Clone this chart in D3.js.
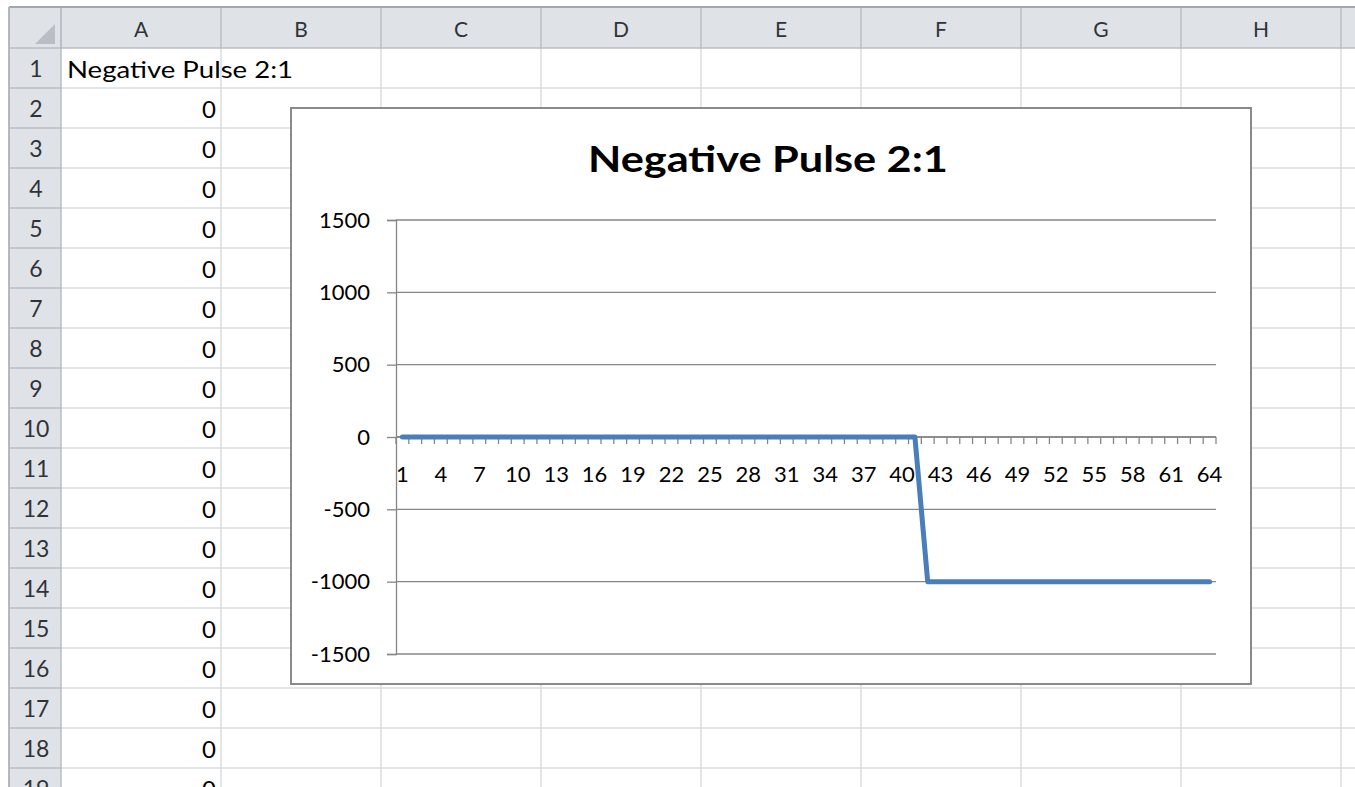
<!DOCTYPE html>
<html>
<head>
<meta charset="utf-8">
<script src="https://cdn.jsdelivr.net/npm/d3@7"></script>
<style>
  html, body { margin: 0; padding: 0; background: #fff; }
  svg { display: block; }
  text { font-family: Lato, "Open Sans", sans-serif; }
</style>
</head>
<body>
<svg id="sheet" width="1355" height="787"></svg>
<script>
// ---------------- data ----------------
const columnLetters = ["A", "B", "C", "D", "E", "F", "G", "H"];
const rowNumbers = d3.range(1, 20);
const cellA1 = "Negative Pulse 2:1";
const columnAValues = [0,0,0,0,0,0,0,0,0,0,0,0,0,0,0,0,0,0]; // rows 2..19
const chartTitle = "Negative Pulse 2:1";
const categories = d3.range(1, 65);            // 1..64
const pulseValues = [
  0,0,0,0,0,0,0,0,0,0,
  0,0,0,0,0,0,0,0,0,0,
  0,0,0,0,0,0,0,0,0,0,
  0,0,0,0,0,0,0,0,0,0,
  0,
  -1000,-1000,-1000,-1000,-1000,-1000,-1000,-1000,-1000,-1000,
  -1000,-1000,-1000,-1000,-1000,-1000,-1000,-1000,-1000,-1000,
  -1000,-1000,-1000
];
const yTickValues = [-1500, -1000, -500, 0, 500, 1000, 1500];
const xTickLabels = d3.range(1, 65, 3);        // 1,4,7,...,64

// ---------------- sheet ----------------
const svg = d3.select("#sheet");
const W = 1355, H = 787;
const headerTop = 8, headerBottom = 48, rowHdrLeft = 10, rowHdrRight = 61;
const colW = 160, rowH = 40;
const visibleColumnBounds = columnLetters.length + 1; // one more boundary past H

svg.append("rect").attr("width", W).attr("height", H).attr("fill", "#fff");

const colX = d3.scaleLinear().domain([0, 1]).range([rowHdrRight, rowHdrRight + colW]);
const rowY = d3.scaleLinear().domain([0, 1]).range([headerBottom, headerBottom + rowH]);

// header backgrounds
svg.append("rect").attr("x", rowHdrLeft).attr("y", headerTop)
  .attr("width", W - rowHdrLeft).attr("height", headerBottom - headerTop).attr("fill", "#dfe3e8");
svg.append("rect").attr("x", rowHdrLeft).attr("y", headerTop)
  .attr("width", rowHdrRight - rowHdrLeft).attr("height", H - headerTop).attr("fill", "#dfe3e8");

// grid lines (cells)
const grid = svg.append("g").attr("stroke", "#dadcdf").attr("stroke-width", 1.5);
d3.range(1, visibleColumnBounds).forEach(i => {
  grid.append("line").attr("x1", colX(i)).attr("x2", colX(i)).attr("y1", headerBottom).attr("y2", H);
});
rowNumbers.forEach(r => {
  grid.append("line").attr("x1", rowHdrRight).attr("x2", W).attr("y1", rowY(r)).attr("y2", rowY(r));
});

// header separators
const hs = svg.append("g").attr("stroke", "#b9bdc4").attr("stroke-width", 1.5);
d3.range(0, visibleColumnBounds).forEach(i => {
  hs.append("line").attr("x1", colX(i)).attr("x2", colX(i)).attr("y1", headerTop).attr("y2", headerBottom);
});
rowNumbers.forEach(r => {
  hs.append("line").attr("x1", rowHdrLeft).attr("x2", rowHdrRight).attr("y1", rowY(r)).attr("y2", rowY(r));
});
hs.append("line").attr("x1", rowHdrLeft).attr("x2", W).attr("y1", headerBottom).attr("y2", headerBottom);
hs.append("line").attr("x1", rowHdrRight).attr("x2", rowHdrRight).attr("y1", headerTop).attr("y2", H);

// outer frame
svg.append("line").attr("x1", rowHdrLeft - 1).attr("x2", W).attr("y1", headerTop - 1).attr("y2", headerTop - 1)
  .attr("stroke", "#a3a7ad").attr("stroke-width", 2);
svg.append("line").attr("x1", rowHdrLeft - 1).attr("x2", rowHdrLeft - 1).attr("y1", headerTop - 1).attr("y2", H)
  .attr("stroke", "#b4b8be").attr("stroke-width", 2);

// corner triangle
svg.append("path")
  .attr("d", "M55,24 L55,44 L35,44 Z")
  .attr("fill", "#b9bec6");

// column letters
svg.append("g").selectAll("text").data(columnLetters).join("text")
  .attr("x", (d, i) => colX(i + 0.5)).attr("y", 37)
  .attr("text-anchor", "middle").attr("font-size", 21).attr("fill", "#2f3338")
  .text(d => d);

// row numbers
svg.append("g").selectAll("text").data(rowNumbers).join("text")
  .attr("x", 36).attr("y", r => rowY(r - 1) + 29)
  .attr("text-anchor", "middle").attr("font-size", 23).attr("fill", "#2f3338")
  .text(d => d);

// cell contents
svg.append("text").attr("x", colX(0) + 6).attr("y", rowY(0) + 30)
  .attr("font-size", 24).attr("fill", "#000")
  .attr("textLength", 226).attr("lengthAdjust", "spacingAndGlyphs")
  .text(cellA1);
svg.append("g").selectAll("text").data(columnAValues).join("text")
  .attr("x", colX(1) - 5).attr("y", (d, i) => rowY(i + 1) + 30)
  .attr("text-anchor", "end").attr("font-size", 24).attr("fill", "#000")
  .text(d => d);

// ---------------- chart ----------------
const chart = { x: 291, y: 108, w: 960, h: 576 };
const plot = { left: 396, right: 1216, top: 220, bottom: 654 };

svg.append("rect")
  .attr("x", chart.x).attr("y", chart.y).attr("width", chart.w).attr("height", chart.h)
  .attr("fill", "#fff").attr("stroke", "#8a8a8a").attr("stroke-width", 2);

svg.append("text")
  .attr("x", chart.x + chart.w / 2 - 3).attr("y", 172)
  .attr("text-anchor", "middle").attr("font-size", 36).attr("font-weight", 700).attr("fill", "#000")
  .attr("textLength", 360).attr("lengthAdjust", "spacingAndGlyphs")
  .text(chartTitle);

const y = d3.scaleLinear().domain([-1500, 1500]).range([plot.bottom, plot.top]);
const x = d3.scaleBand().domain(categories).range([plot.left, plot.right]).padding(0);

const axisColor = "#868686";

// gridlines
svg.append("g").selectAll("line").data(yTickValues).join("line")
  .attr("x1", plot.left).attr("x2", plot.right)
  .attr("y1", d => y(d)).attr("y2", d => y(d))
  .attr("stroke", axisColor).attr("stroke-width", 1.3);

// y axis
const yAxis = d3.axisLeft(y).tickValues(yTickValues).tickSize(9).tickPadding(17).tickFormat(d => String(d));
const gy = svg.append("g").attr("transform", `translate(${plot.left},0)`).call(yAxis);
gy.select(".domain").attr("stroke", axisColor).attr("stroke-width", 1.3);
gy.selectAll(".tick line").attr("stroke", axisColor).attr("stroke-width", 1.3);
gy.selectAll(".tick text").attr("font-size", 22).attr("fill", "#000")
  .attr("font-family", "Lato, 'Open Sans', sans-serif");

// x axis at value 0
const bounds = d3.range(0, categories.length + 1).map(i => plot.left + i * x.step());
svg.append("line").attr("x1", plot.left).attr("x2", plot.right)
  .attr("y1", y(0)).attr("y2", y(0)).attr("stroke", axisColor).attr("stroke-width", 1.3);
svg.append("g").selectAll("line").data(bounds).join("line")
  .attr("x1", d => d).attr("x2", d => d)
  .attr("y1", y(0)).attr("y2", y(0) + 7)
  .attr("stroke", axisColor).attr("stroke-width", 1.3);
svg.append("g").selectAll("text").data(xTickLabels).join("text")
  .attr("x", d => x(d) + x.bandwidth() / 2).attr("y", y(0) + 45)
  .attr("text-anchor", "middle").attr("font-size", 22).attr("fill", "#000")
  .text(d => d);

// series line
const line = d3.line()
  .x((d, i) => x(categories[i]) + x.bandwidth() / 2)
  .y(d => y(d));
svg.append("path").datum(pulseValues)
  .attr("d", line)
  .attr("fill", "none").attr("stroke", "#4a7ebb").attr("stroke-width", 5)
  .attr("stroke-linejoin", "round").attr("stroke-linecap", "round");
</script>
</body>
</html>
